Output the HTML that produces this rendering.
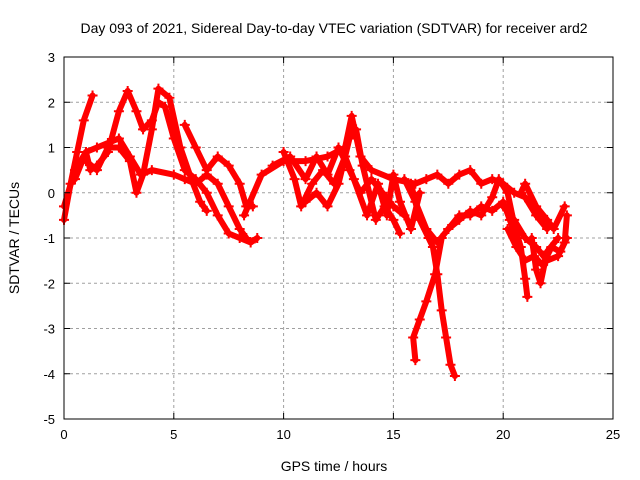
<!DOCTYPE html>
<html><head><meta charset="utf-8"><style>
body{margin:0;background:#fff;}
svg{display:block;font-family:"Liberation Sans",sans-serif;}
</style></head><body>
<svg id="chart" width="640" height="480">
<text x="334" y="33" text-anchor="middle" font-size="14">Day 093 of 2021, Sidereal Day-to-day VTEC variation (SDTVAR) for receiver ard2</text>
<text x="334" y="471" text-anchor="middle" font-size="14">GPS time / hours</text>
<text transform="translate(19,238) rotate(-90)" text-anchor="middle" font-size="14">SDTVAR / TECUs</text>
<g id="grid"></g><g id="marks"></g><g id="axes"></g>
</svg>
<script>
const xTicks=[0,5,10,15,20,25];
const yTicks=[3,2,1,0,-1,-2,-3,-4,-5];
const trackA=[[0,-0.6],[0.3,0.2],[0.6,0.9],[0.9,1.6],[1.3,2.15]];
const trackB=[[0,-0.3],[0.5,0.5],[1.0,0.9],[1.5,1.0],[2.0,1.1],[2.5,1.2],[3.0,0.8],[3.5,0.4],[4.0,0.5],[5,0.4],[5.5,0.3],[6,0.2],[6.5,0.4],[7,0.2],[7.5,-0.3],[8,-0.8],[8.3,-1.0]];
const trackC=[[0.5,0.3],[1,0.9],[1.2,0.5],[1.5,0.6],[2,0.9],[2.5,1.8],[2.9,2.25],[3.3,1.8],[3.6,1.4],[4,1.6],[4.3,2.0],[4.6,1.9],[5,1.2],[5.5,0.5],[6,0.3],[6.5,0.0],[7,-0.5],[7.5,-0.9],[8,-1.0],[8.5,-1.1],[8.8,-1.0]];
const trackD=[[1.0,0.7],[1.5,0.5],[2.0,1.0],[2.5,1.0],[3.0,0.7],[3.3,0.0],[3.6,0.4],[4.0,1.4],[4.3,2.3],[4.8,2.1],[5.3,1.0],[5.8,0.3],[6.2,-0.2],[6.5,-0.4]];
const trackE=[[5.5,1.5],[6,1.0],[6.5,0.5],[7,0.8],[7.5,0.6],[8,0.2],[8.3,-0.3],[8.6,-0.3]];
const trackF=[[8.2,-0.5],[9,0.4],[10,0.7],[11,0.7],[12,0.8],[12.8,1.0],[13.1,1.7],[13.5,0.8],[14,0.5],[15,0.3],[16,0.2],[16.5,0.3],[17,0.4],[17.5,0.2],[18,0.4],[18.5,0.5],[19,0.2],[19.5,0.3],[20,0.2],[20.5,0.0],[21,-0.1],[21.5,-0.5],[22,-0.8]];
const trackG=[[10,0.9],[10.5,0.3],[10.8,-0.3],[11.3,0.2],[11.8,0.5],[12.3,0.2],[12.8,0.8],[13.2,0.3],[13.8,-0.5],[14.3,0.2],[14.7,-0.5],[15,0.4],[15.3,-0.2],[15.8,-0.8],[16.2,0.0]];
const trackH=[[15.8,0.2],[16.2,-0.6],[16.6,-1.0],[16.8,-1.2],[17.0,-1.8],[17.2,-2.6],[17.4,-3.2],[17.6,-3.8],[17.8,-4.05]];
const trackI=[[17.2,-1.0],[16.9,-1.8],[16.5,-2.4],[16.2,-2.8],[15.9,-3.2],[16.0,-3.7]];
const trackJ=[[15.5,0.3],[16,-0.2],[16.5,-0.8],[17,-1.1],[17.5,-0.8],[18,-0.6],[18.5,-0.4],[19,-0.5],[19.5,-0.1],[19.8,0.3],[20.2,0.0],[20.5,-0.7],[20.8,-1.2],[21,-1.9],[21.1,-2.3]];
const trackK=[[20.8,0.0],[21,0.2],[21.5,-0.3],[22,-0.6],[22.3,-0.8],[22.8,-0.3]];
const trackL=[[20,-0.3],[20.5,-0.6],[21,-1.0],[21.5,-1.2],[22,-1.5],[22.5,-1.4],[22.8,-1.1],[22.9,-0.5]];
const trackM=[[21.3,-1.0],[21.5,-1.7],[21.7,-2.0],[22,-1.3],[22.5,-1.0]];
const trackN=[[9.5,0.6],[10.3,0.8],[11,0.3],[11.5,0.8],[12,0.4],[12.5,1.0],[13,0.5],[13.5,0.0],[14,0.3],[14.5,0.0],[15,-0.3],[15.5,-0.5]];
const trackO=[[11,-0.2],[11.5,0.0],[12,-0.3],[12.5,0.2],[13,1.2],[13.3,1.4],[13.6,0.6],[14.2,-0.6],[14.6,-0.3],[15,-0.6],[15.3,-0.9]];
const trackP=[[17.5,-0.8],[18,-0.5],[18.5,-0.5],[19,-0.3],[19.5,-0.4],[20,-0.2],[20.3,-0.6],[20.6,-1.0]];
const trackQ=[[20.2,-0.8],[20.6,-1.2],[21,-1.5],[21.4,-1.4],[21.8,-1.6],[22.2,-1.2],[22.6,-1.3],[22.9,-1.0]];
const tracks=[trackA,trackB,trackC,trackD,trackE,trackF,trackG,trackH,trackI,trackJ,trackK,trackL,trackM,trackN,trackO,trackP,trackQ];
const L=64,R=613,T=57,B=419;
const xs=v=>L+(v-0)/(25-0)*(R-L);
const ys=v=>B-(v+5)/(3+5)*(B-T);
const NS='http://www.w3.org/2000/svg';
function mk(t,a,p){const e=document.createElementNS(NS,t);for(const k in a)e.setAttribute(k,a[k]);p.appendChild(e);return e;}
const grid=document.getElementById('grid'),axes=document.getElementById('axes'),marks=document.getElementById('marks');
xTicks.forEach(v=>{
 if(v>0&&v<25){const g=mk('line',{x1:xs(v),x2:xs(v),y1:T,y2:B,stroke:'#a0a0a0','stroke-dasharray':'3,3'},grid);
 
 }
 mk('line',{x1:xs(v),x2:xs(v),y1:B,y2:B-6,stroke:'#000'},axes);
 mk('line',{x1:xs(v),x2:xs(v),y1:T,y2:T+6,stroke:'#000'},axes);
 const t=mk('text',{x:xs(v),y:B+20,'text-anchor':'middle','font-size':13},axes);t.textContent=v;
 
 
});
yTicks.forEach(v=>{
 if(v>-5&&v<3){const g=mk('line',{x1:L,x2:R,y1:ys(v),y2:ys(v),stroke:'#a0a0a0','stroke-dasharray':'3,3'},grid);
 
 }
 mk('line',{x1:L,x2:L+6,y1:ys(v),y2:ys(v),stroke:'#000'},axes);
 mk('line',{x1:R,x2:R-6,y1:ys(v),y2:ys(v),stroke:'#000'},axes);
 const t=mk('text',{x:L-9,y:ys(v)+5,'text-anchor':'end','font-size':13},axes);t.textContent=v;
 
 
});
const fr=mk('rect',{x:L,y:T,width:R-L,height:B-T,fill:'none',stroke:'#000','stroke-width':1},axes);


tracks.forEach(tr=>{
 const p=mk('polyline',{points:tr.map(d=>xs(d[0])+','+ys(d[1])).join(' '),fill:'none',stroke:'#ff0000','stroke-width':6,'stroke-linejoin':'round','stroke-linecap':'round'},marks);
 
 
 tr.forEach(d=>{
  const m=mk('path',{d:`M${xs(d[0])-5},${ys(d[1])}h10M${xs(d[0])},${ys(d[1])-5}v10`,stroke:'#ff0000','stroke-width':2},marks);
  
  
 });
});
</script>
</body></html>
